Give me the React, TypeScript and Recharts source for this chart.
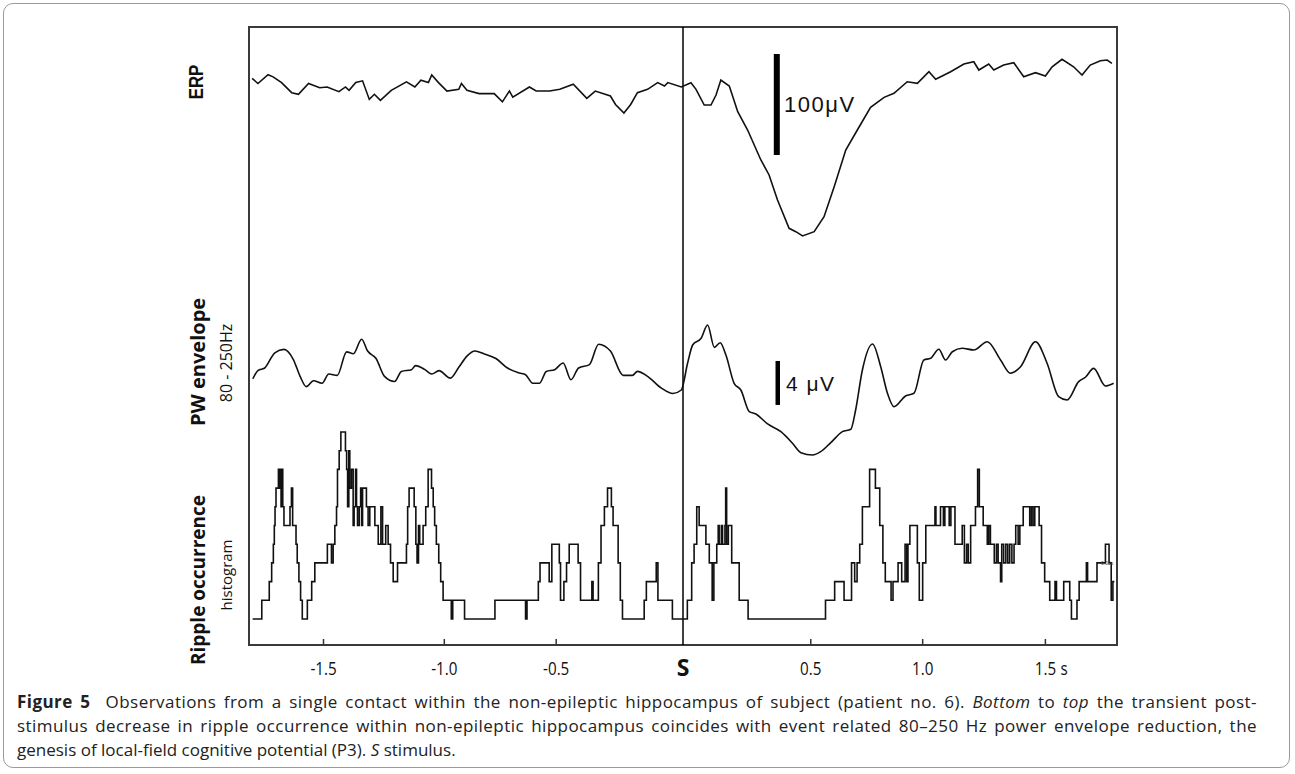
import React from "react";
import { LineChart, Line, XAxis, YAxis, ReferenceLine, ReferenceArea } from "recharts";

// time (s) , ERP amplitude (µV)
const erpTrace: [number, number][] = [
  [-1.787, 1.6], [-1.763, -3.4], [-1.721, 5.2], [-1.7, 3.1], [-1.665, -2.5], [-1.623, -12.4],
  [-1.595, -14.0], [-1.553, -3.4], [-1.507, -7.5], [-1.476, -6.8], [-1.427, -11.4], [-1.4, -6.8],
  [-1.385, -10.1], [-1.357, -2.5], [-1.329, -0.8], [-1.301, -19.0], [-1.28, -14.0], [-1.255, -20.0],
  [-1.21, -10.1], [-1.147, -1.8], [-1.112, -6.8], [-1.087, -0.1], [-1.056, -2.5], [-1.042, 4.9],
  [-1.014, -2.5], [-0.979, -10.8], [-0.93, -9.1], [-0.919, -3.4], [-0.896, -10.1], [-0.846, -13.3],
  [-0.783, -13.3], [-0.749, -21.4], [-0.72, -10.7], [-0.706, -16.7], [-0.637, -6.8], [-0.609, -10.7],
  [-0.553, -10.7], [-0.511, -9.1], [-0.455, -4.1], [-0.399, -18.0], [-0.364, -10.8], [-0.301, -15.7],
  [-0.28, -24.0], [-0.245, -32.3], [-0.217, -24.0], [-0.189, -12.4], [-0.147, -9.1], [-0.105, -2.5],
  [-0.077, -5.8], [-0.063, -2.5], [-0.007, -6.8], [0.033, -2.6], [0.054, -9.1], [0.088, -24.5],
  [0.116, -24.5], [0.137, -14.7], [0.157, 0], [0.192, -5.9], [0.227, -31.1], [0.268, -49.0],
  [0.323, -78.4], [0.357, -93.1], [0.392, -117.6], [0.44, -145.4], [0.468, -148.7], [0.496, -152.9],
  [0.544, -148.7], [0.585, -134.0], [0.627, -104.6], [0.675, -68.6], [0.723, -49.0], [0.778, -26.8],
  [0.834, -17.0], [0.875, -13.0], [0.93, -1.7], [0.972, -3.2], [1.02, 8.1], [1.048, 0.7],
  [1.11, 8.1], [1.165, 15.7], [1.206, 17.9], [1.227, 9.8], [1.268, 15.7], [1.289, 9.8],
  [1.33, 14.7], [1.372, 17.0], [1.413, 3.2], [1.462, 7.2], [1.503, 3.9], [1.531, 13.0],
  [1.572, 20.3], [1.62, 13.0], [1.655, 4.9], [1.689, 14.7], [1.731, 18.9], [1.759, 19.6], [1.779, 16.4],
];

// time (s) , 80-250 Hz power envelope (µV)
const pwTrace: [number, number][] = [
  [-1.784, 0.11], [-1.763, 0.85], [-1.735, 1.09], [-1.693, 2.47], [-1.655, 2.78], [-1.616, 1.86],
  [-1.588, 0.33], [-1.563, -0.6], [-1.532, -0.07], [-1.497, -0.29], [-1.469, 0.55], [-1.434, 0.42],
  [-1.395, 2.56], [-1.367, 2.38], [-1.333, 3.7], [-1.308, 2.63], [-1.273, 1.95], [-1.238, 0.33],
  [-1.196, -0.14], [-1.168, 0.78], [-1.126, 0.94], [-1.109, 1.31], [-1.07, 0.94], [-1.042, 0.55],
  [-1.012, 0.85], [-0.965, 0.17], [-0.93, 1.15], [-0.896, 2.17], [-0.863, 2.63], [-0.826, 2.38],
  [-0.776, 1.95], [-0.728, 1.09], [-0.679, 0.64], [-0.653, 0.48], [-0.623, -0.29], [-0.595, -0.29],
  [-0.567, 0.78], [-0.532, 0.94], [-0.497, 1.55], [-0.465, 0.02], [-0.433, 1.09], [-0.388, 1.4],
  [-0.35, 3.25], [-0.301, 2.63], [-0.248, 0.42], [-0.21, 0.42], [-0.189, 0.78], [-0.147, 0.33],
  [-0.091, -0.72], [-0.042, -1.23], [-0.007, -0.91], [0.019, 1.52], [0.04, 3.18], [0.075, 3.79],
  [0.102, 5.0], [0.13, 2.97], [0.154, 3.39], [0.178, 2.27], [0.212, -0.3], [0.24, -0.91],
  [0.275, -2.88], [0.302, -3.09], [0.351, -4.0], [0.406, -4.7], [0.454, -5.75], [0.489, -6.61],
  [0.537, -6.82], [0.571, -6.52], [0.613, -5.7], [0.661, -4.7], [0.696, -4.48], [0.716, -2.73],
  [0.744, 0.91], [0.786, 3.27], [0.82, 1.21], [0.848, -1.21], [0.875, -2.43], [0.923, -1.45],
  [0.958, -1.21], [0.999, 1.82], [1.027, 1.97], [1.061, 2.79], [1.089, 1.82], [1.117, 2.57],
  [1.158, 2.88], [1.206, 2.73], [1.262, 3.48], [1.317, 1.82], [1.358, 0.61], [1.4, 1.21],
  [1.462, 3.48], [1.51, 1.52], [1.558, -1.52], [1.593, -1.82], [1.641, -0.15], [1.669, 0.25],
  [1.703, 1.06], [1.752, -0.55], [1.786, -0.3],
];

// time (s) , ripple count (histogram step starts)
const rippleSteps: [number, number][] = [
  [-1.785, 0], [-1.747, 1], [-1.716, 2], [-1.706, 3], [-1.699, 4], [-1.695, 5], [-1.692, 6],
  [-1.688, 7], [-1.678, 8], [-1.674, 7], [-1.672, 8], [-1.667, 6], [-1.665, 8], [-1.66, 6],
  [-1.655, 5], [-1.63, 6], [-1.624, 7], [-1.619, 5], [-1.605, 4], [-1.6, 3], [-1.593, 2],
  [-1.586, 1], [-1.579, 0], [-1.558, 1], [-1.54, 2], [-1.527, 3], [-1.475, 4], [-1.458, 3],
  [-1.451, 4], [-1.444, 5], [-1.437, 6], [-1.433, 8], [-1.426, 9], [-1.419, 10], [-1.4, 9],
  [-1.395, 8], [-1.391, 6], [-1.386, 9], [-1.382, 7], [-1.375, 8], [-1.368, 5], [-1.364, 6],
  [-1.358, 8], [-1.354, 6], [-1.35, 5], [-1.343, 6], [-1.337, 7], [-1.333, 5], [-1.329, 7],
  [-1.313, 6], [-1.306, 5], [-1.299, 6], [-1.278, 5], [-1.264, 4], [-1.253, 6], [-1.246, 4],
  [-1.233, 5], [-1.223, 4], [-1.213, 3], [-1.202, 2], [-1.184, 3], [-1.147, 4], [-1.142, 6],
  [-1.136, 7], [-1.115, 6], [-1.108, 4], [-1.103, 3], [-1.097, 5], [-1.092, 4], [-1.078, 5],
  [-1.067, 6], [-1.057, 8], [-1.043, 7], [-1.036, 6], [-1.03, 5], [-1.023, 4], [-1.013, 3],
  [-1.005, 2], [-0.995, 1], [-0.961, 0], [-0.955, 1], [-0.906, 0], [-0.78, 1], [-0.653, 0],
  [-0.647, 1], [-0.6, 2], [-0.593, 3], [-0.555, 2], [-0.544, 4], [-0.513, 3], [-0.508, 1],
  [-0.494, 2], [-0.483, 3], [-0.472, 4], [-0.435, 3], [-0.425, 1], [-0.378, 2], [-0.373, 1],
  [-0.351, 3], [-0.34, 5], [-0.326, 6], [-0.313, 7], [-0.297, 6], [-0.29, 5], [-0.269, 3],
  [-0.26, 1], [-0.251, 0], [-0.161, 1], [-0.152, 2], [-0.111, 3], [-0.104, 1], [-0.044, 0],
  [0.018, 1], [0.036, 3], [0.046, 4], [0.057, 6], [0.067, 5], [0.095, 4], [0.109, 3],
  [0.121, 1], [0.128, 3], [0.14, 4], [0.146, 5], [0.15, 4], [0.159, 5], [0.164, 4],
  [0.174, 5], [0.177, 7], [0.181, 4], [0.188, 5], [0.202, 3], [0.233, 1], [0.27, 0],
  [0.591, 1], [0.629, 2], [0.668, 1], [0.699, 3], [0.712, 2], [0.722, 3], [0.733, 4],
  [0.744, 6], [0.774, 8], [0.798, 7], [0.816, 5], [0.829, 3], [0.839, 2], [0.863, 1],
  [0.871, 2], [0.892, 3], [0.907, 2], [0.921, 4], [0.928, 2], [0.933, 4], [0.941, 5],
  [0.972, 3], [0.98, 1], [0.994, 3], [1.007, 5], [1.045, 6], [1.049, 5], [1.068, 6],
  [1.08, 5], [1.086, 6], [1.104, 5], [1.111, 6], [1.128, 4], [1.158, 5], [1.167, 3],
  [1.176, 4], [1.183, 3], [1.193, 5], [1.213, 6], [1.222, 8], [1.229, 6], [1.245, 5],
  [1.262, 4], [1.268, 5], [1.275, 4], [1.291, 3], [1.3, 4], [1.307, 3], [1.317, 2],
  [1.322, 4], [1.33, 3], [1.339, 4], [1.347, 3], [1.355, 4], [1.364, 3], [1.373, 4],
  [1.38, 5], [1.39, 4], [1.397, 5], [1.411, 6], [1.438, 5], [1.445, 6], [1.452, 5],
  [1.459, 6], [1.477, 5], [1.487, 3], [1.5, 2], [1.521, 1], [1.543, 2], [1.549, 1],
  [1.579, 2], [1.604, 1], [1.611, 0], [1.634, 1], [1.643, 2], [1.673, 3], [1.678, 2],
  [1.717, 3], [1.752, 4], [1.767, 3], [1.776, 1], [1.783, 2], [1.789, 2],
];

// tick marks sit where the original figure drew them
const tickPositions = [-1.491, -0.99, -0.526, 0, 0.53, 0.994, 1.503];
const tickLabels = ["-1.5", "-1.0", "-0.5", "S", "0.5", "1.0", "1.5 s"];

const erpData = erpTrace.map(([t, v]) => ({ t, erp: v }));
const pwData = pwTrace.map(([t, v]) => ({ t, pw: v }));
const rippleData = rippleSteps.map(([t, n]) => ({ t, ripple: n }));

const XTick = (props: any) => {
  const { x, y, index } = props;
  const label = tickLabels[index] ?? "";
  const [num, unit] = label.split(" ");
  const isS = label === "S";
  return (
    <g>
      {!isS && <line x1={x} x2={x} y1={y - 6} y2={y} stroke="#333" strokeWidth={1.5} />}
      {isS ? (
        <text x={x} y={y + 31} textAnchor="middle" fontFamily="Open Sans" fontWeight={700} fontSize={23} fill="#111">
          S
        </text>
      ) : (
        <g transform={`translate(${x},${y + 30}) scale(0.8,1)`}>
          <text x={0} y={0} textAnchor="middle" fontFamily="Open Sans" fontSize={19} fill="#111">
            {num}
          </text>
          {unit && (
            <text x={19} y={0} textAnchor="start" fontFamily="Open Sans" fontSize={19} fill="#111">
              {unit}
            </text>
          )}
        </g>
      )}
    </g>
  );
};

const sideLabel = (text: string, cx: number, cy: number, style: React.CSSProperties) => (
  <div
    style={{
      position: "absolute",
      left: cx,
      top: cy,
      transform: "translate(-50%,-50%) rotate(-90deg)",
      whiteSpace: "nowrap",
      lineHeight: 1,
      color: "#111",
      ...style,
    }}
  >
    {text}
  </div>
);

const captionStyle: React.CSSProperties = {
  position: "absolute",
  left: 17,
  whiteSpace: "nowrap",
  fontFamily: "Open Sans",
  fontSize: 17,
  color: "#222",
  lineHeight: 1,
};

const justified: React.CSSProperties = {
  width: 1240,
  letterSpacing: 0.45,
  textAlign: "justify",
  textAlignLast: "justify",
};

export default function App() {
  return (
    <div style={{ position: "relative", width: 1295, height: 774, background: "#fff", overflow: "hidden" }}>
      <style>{`body{margin:0}`}</style>
      <div
        style={{
          position: "absolute",
          left: 3,
          top: 3,
          width: 1287,
          height: 765,
          boxSizing: "border-box",
          border: "1px solid #9a9a9a",
          borderRadius: 10,
        }}
      />
      <div style={{ position: "absolute", left: 0, top: 0 }}>
        <LineChart width={1295} height={700} margin={{ top: 27, right: 178, bottom: 25, left: 249 }}>
          <XAxis
            type="number"
            dataKey="t"
            domain={[-1.8, 1.8]}
            allowDataOverflow
            ticks={tickPositions}
            interval={0}
            tick={<XTick />}
            tickLine={false}
            axisLine={false}
            tickSize={0}
            tickMargin={0}
            height={30}
          />
          <YAxis yAxisId="erp" type="number" domain={[-554, 52]} allowDataOverflow hide />
          <YAxis yAxisId="pw" type="number" domain={[-24.1, 32.1]} allowDataOverflow hide />
          <YAxis yAxisId="ripple" type="number" domain={[-1.39, 31.66]} allowDataOverflow hide />
          <ReferenceArea
            yAxisId="erp"
            x1={-1.8}
            x2={1.8}
            y1={-554}
            y2={52}
            fill="none"
            stroke="#3a3a3a"
            strokeWidth={2}
          />
          <ReferenceLine yAxisId="erp" x={0} stroke="#000" strokeWidth={1.5} />
          <ReferenceLine
            yAxisId="erp"
            segment={[{ x: 0.389, y: 25.5 }, { x: 0.389, y: -73.5 }]}
            stroke="#000"
            strokeWidth={6}
          />
          <ReferenceLine
            yAxisId="pw"
            segment={[{ x: 0.393, y: 1.73 }, { x: 0.393, y: -2.27 }]}
            stroke="#000"
            strokeWidth={4.5}
          />
          <Line
            yAxisId="erp"
            data={erpData}
            dataKey="erp"
            type="linear"
            stroke="#111"
            strokeWidth={1.6}
            dot={false}
            isAnimationActive={false}
          />
          <Line
            yAxisId="pw"
            data={pwData}
            dataKey="pw"
            type="monotone"
            stroke="#111"
            strokeWidth={1.6}
            dot={false}
            isAnimationActive={false}
          />
          <Line
            yAxisId="ripple"
            data={rippleData}
            dataKey="ripple"
            type="stepAfter"
            stroke="#111"
            strokeWidth={1.6}
            dot={false}
            isAnimationActive={false}
          />
        </LineChart>
      </div>

      {/* scale bar labels */}
      <div style={{ position: "absolute", left: 784, top: 94, fontFamily: "Liberation Sans", fontSize: 22, letterSpacing: 1.5, lineHeight: 1, color: "#111" }}>
        100μV
      </div>
      <div style={{ position: "absolute", left: 786, top: 373, fontFamily: "Liberation Sans", fontSize: 21, letterSpacing: 1.5, lineHeight: 1, color: "#111" }}>
        4 μV
      </div>
      <div style={{ position: "absolute", left: 1101, top: 561, fontFamily: "Liberation Sans", fontSize: 5, color: "#444", lineHeight: 1 }}>
        0.02s
      </div>

      {/* row labels */}
      {sideLabel("ERP", 195, 82, { fontFamily: "Liberation Sans", fontWeight: 700, fontSize: 21, transform: "translate(-50%,-50%) rotate(-90deg) scaleX(0.8)" })}
      {sideLabel("PW envelope", 198, 362, { fontFamily: "Open Sans", fontWeight: 700, fontSize: 20 })}
      {sideLabel("80 - 250Hz", 226, 363, { fontFamily: "Open Sans", fontSize: 16 })}
      {sideLabel("Ripple occurrence", 198, 580, { fontFamily: "Open Sans", fontWeight: 700, fontSize: 19 })}
      {sideLabel("histogram", 226, 575, { fontFamily: "Open Sans", fontSize: 15 })}

      {/* caption */}
      <div style={{ ...captionStyle, ...justified, top: 693 }}>
        <b>Figure 5</b>&nbsp; Observations from a single contact within the non-epileptic hippocampus of subject (patient no. 6). <i>Bottom</i> to <i>top</i> the transient post-
      </div>
      <div style={{ ...captionStyle, ...justified, top: 717 }}>
        stimulus decrease in ripple occurrence within non-epileptic hippocampus coincides with event related 80–250 Hz power envelope reduction, the
      </div>
      <div style={{ ...captionStyle, top: 741 }}>
        genesis of local-field cognitive potential (P3). <i>S</i> stimulus.
      </div>
    </div>
  );
}
